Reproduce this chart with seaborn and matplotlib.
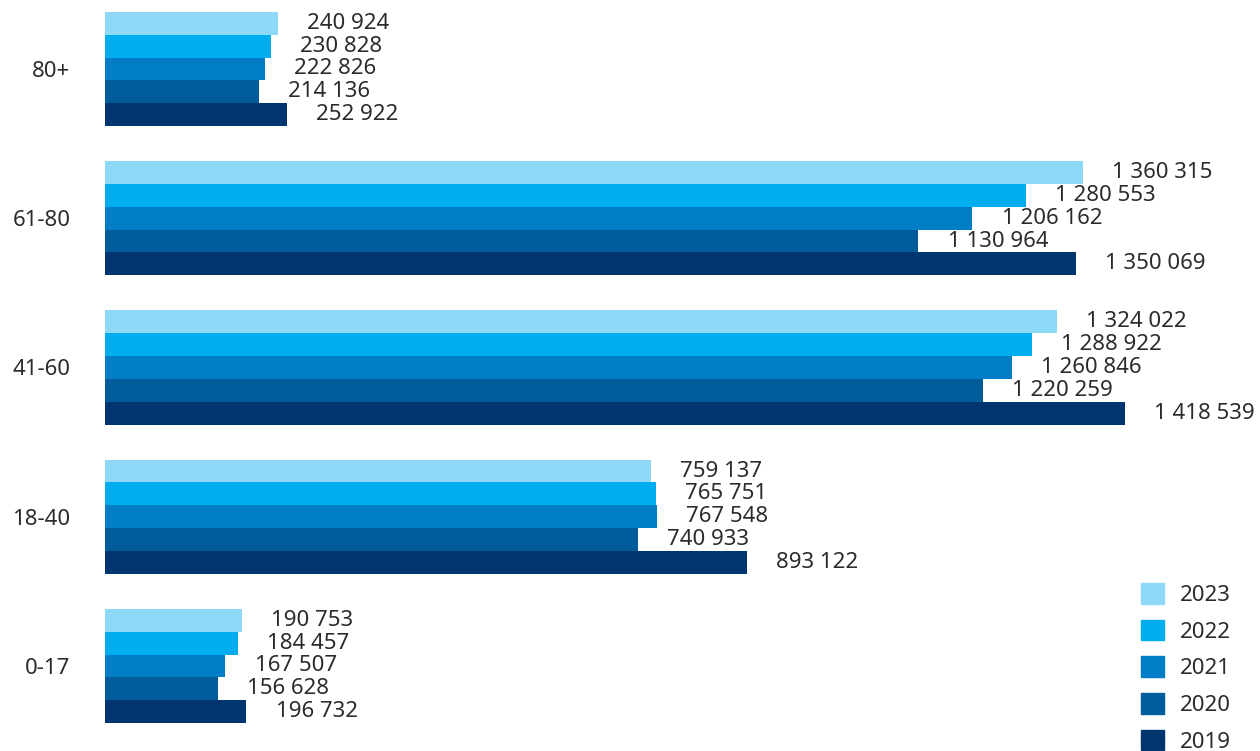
import pandas as pd
import seaborn as sns
import matplotlib
matplotlib.use('Agg')
import matplotlib.pyplot as plt
import matplotlib.patches as mpatches

age_groups = ["80+", "61-80", "41-60", "18-40", "0-17"]
years = ["2023", "2022", "2021", "2020", "2019"]
v2023 = [240924, 1360315, 1324022, 759137, 190753]
v2022 = [230828, 1280553, 1288922, 765751, 184457]
v2021 = [222826, 1206162, 1260846, 767548, 167507]
v2020 = [214136, 1130964, 1220259, 740933, 156628]
v2019 = [252922, 1350069, 1418539, 893122, 196732]
year_colors = ["#8ED8F8", "#00AEEF", "#007DC5", "#005B9B", "#00356F"]

series = [v2023, v2022, v2021, v2020, v2019]
rows = []
for year, vals in zip(years, series):
    for grp, v in zip(age_groups, vals):
        rows.append({"Age": grp, "Year": year, "Value": v})
df = pd.DataFrame(rows)

sns.set_theme(style="white")
plt.rcParams['font.family'] = ['Noto Sans', 'DejaVu Sans']
text_color = "#2b2b2b"

fig = plt.figure(figsize=(12.6, 7.51), dpi=100)
ax = fig.add_axes([105 / 1260, 0, 1 - 105 / 1260, 1])

palette = dict(zip(years, year_colors))
sns.barplot(data=df, y="Age", x="Value", hue="Year", order=age_groups,
            hue_order=years, palette=palette, orient="h", width=0.765,
            gap=0, saturation=1, linewidth=0, ax=ax, legend=False)

for cont in ax.containers:
    ax.bar_label(cont, labels=[f"{int(b.get_width()):,}".replace(",", " ") for b in cont],
                 padding=21, fontsize=16, color=text_color)

ax.set_xlim(0, 1.606e6)
ax.set_ylim(4.57, -0.462)
ax.set_xlabel("")
ax.set_ylabel("")
ax.set_xticks([])
ax.tick_params(axis="y", length=0, pad=25, labelsize=16, labelcolor=text_color)
for s in ax.spines.values():
    s.set_visible(False)

handles = [mpatches.Patch(color=c, label=y) for y, c in zip(years, year_colors)]
fig.legend(handles=handles, loc="upper left", bbox_to_anchor=(1121 / 1260, 1 - 563 / 751),
           frameon=False, fontsize=16, handlelength=1.05, handleheight=1.05,
           labelspacing=0.62, handletextpad=0.7, labelcolor=text_color)

fig.savefig("out.png", dpi=100)
plt.close(fig)
